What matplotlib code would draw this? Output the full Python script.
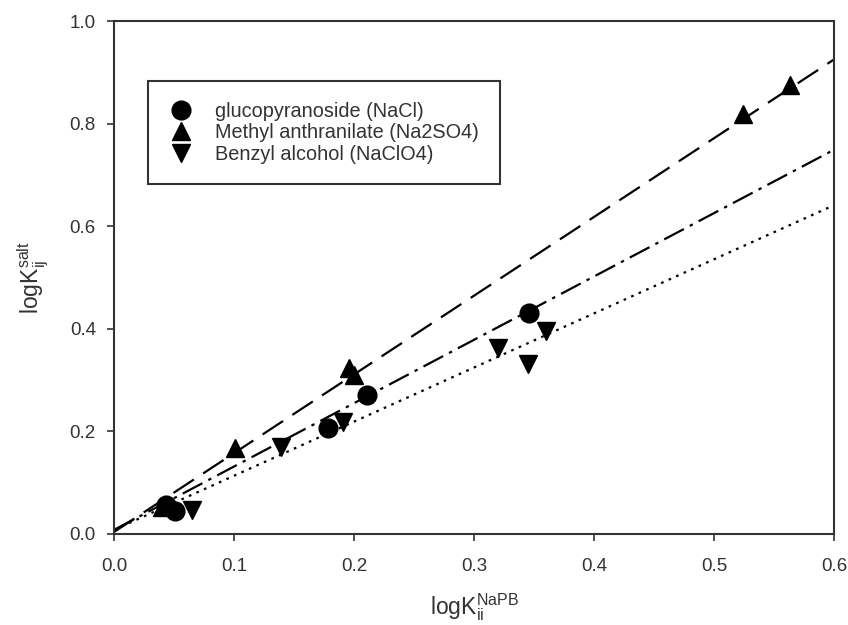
import matplotlib.pyplot as plt
import numpy as np

plt.rcParams['font.family'] = ['Liberation Sans', 'DejaVu Sans']
plt.rcParams['mathtext.fontset'] = 'custom'
plt.rcParams['mathtext.rm'] = 'Liberation Sans'

# glucopyranoside (NaCl)
glu_x = [0.043, 0.051, 0.178, 0.211, 0.346]
glu_y = [0.057, 0.045, 0.207, 0.271, 0.431]
# Methyl anthranilate (Na2SO4)
met_x = [0.040, 0.101, 0.196, 0.200, 0.524, 0.563]
met_y = [0.052, 0.168, 0.324, 0.309, 0.818, 0.875]
# Benzyl alcohol (NaClO4)
ben_x = [0.065, 0.139, 0.191, 0.320, 0.345, 0.360]
ben_y = [0.047, 0.170, 0.218, 0.363, 0.332, 0.395]

# fitted lines: slope, intercept
glu_fit = [1.235, 0.008]
met_fit = [1.535, 0.004]
ben_fit = [1.055, 0.008]

fig = plt.figure(figsize=(8.48, 6.25), dpi=100)
ax = fig.add_axes([0.1344, 0.1456, 0.8491, 0.8208])

xl = np.array([0.0, 0.6])
ax.plot(xl, met_fit[0]*xl + met_fit[1], color='black', lw=1.6, dashes=(11, 5))
ax.plot(xl, glu_fit[0]*xl + glu_fit[1], color='black', lw=1.6, dashes=(10, 3, 1.5, 3))
ax.plot(xl, ben_fit[0]*xl + ben_fit[1], color='black', lw=1.6, dashes=(1.2, 2.5))

ax.plot(glu_x, glu_y, 'o', color='black', ms=13.5, ls='none', label='glucopyranoside (NaCl)')
ax.plot(met_x, met_y, '^', color='black', ms=13.5, ls='none', label='Methyl anthranilate (Na2SO4)')
ax.plot(ben_x, ben_y, 'v', color='black', ms=13.5, ls='none', label='Benzyl alcohol (NaClO4)')

ax.set_xlim(0, 0.6)
ax.set_ylim(0, 1.0)
ax.set_xticks([0.0, 0.1, 0.2, 0.3, 0.4, 0.5, 0.6])
ax.set_yticks([0.0, 0.2, 0.4, 0.6, 0.8, 1.0])
ax.set_xticklabels(['0.0', '0.1', '0.2', '0.3', '0.4', '0.5', '0.6'])
ax.set_yticklabels(['0.0', '0.2', '0.4', '0.6', '0.8', '1.0'])
ax.tick_params(direction='out', length=5, width=1.2, labelsize=13.5, colors='#333333', pad=8)
ax.tick_params(axis='x', pad=12)
for s in ax.spines.values():
    s.set_linewidth(1.5)
    s.set_color('#333333')

ax.set_xlabel(r'logK$_{\mathregular{ii}}^{\mathregular{NaPB}}$', fontsize=16.5, color='#333333', labelpad=12)
ax.set_ylabel(r'logK$_{\mathregular{ij}}^{\mathregular{salt}}$', fontsize=16.5, color='#333333', labelpad=14)

leg = ax.legend(loc='upper left', bbox_to_anchor=(0.047, 0.883), fontsize=14.3, frameon=True,
                fancybox=False, edgecolor='#333333', framealpha=1, borderpad=1.05,
                handlelength=1.2, handletextpad=1.15, labelspacing=0.12, borderaxespad=0)
leg.get_frame().set_linewidth(1.5)
for t in leg.get_texts():
    t.set_color('#333333')

fig.savefig('out.png', dpi=100)
